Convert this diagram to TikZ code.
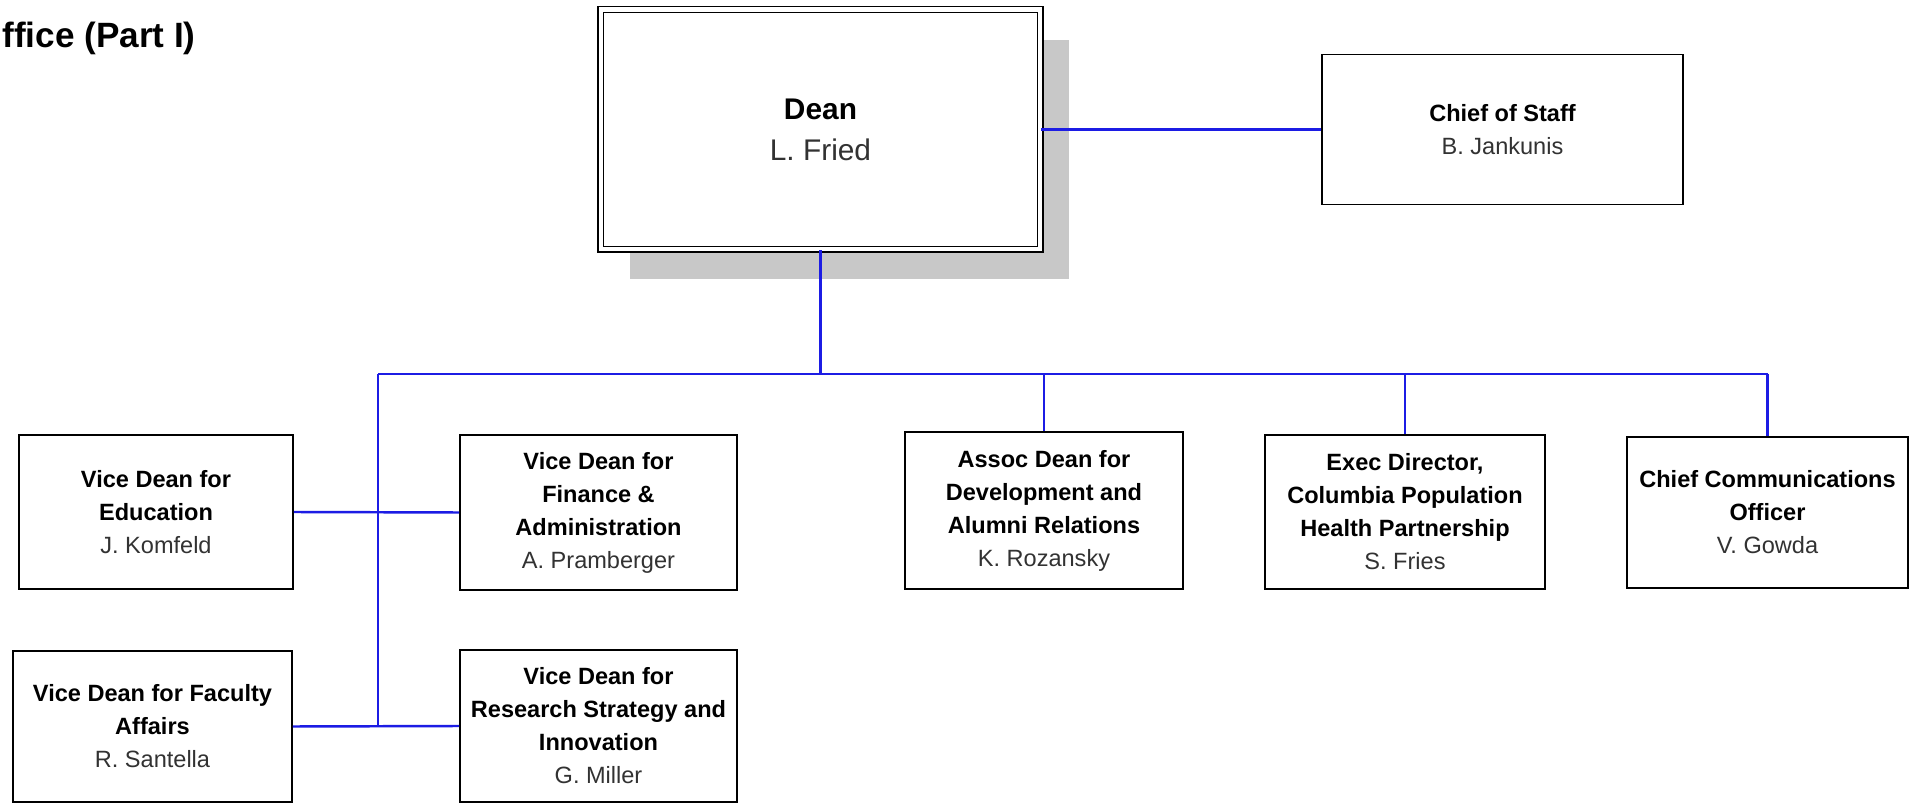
\documentclass[tikz,border=0pt]{standalone}
\usepackage{fontspec}
\setmainfont{Liberation Sans}
\usepackage{tikz}
\usetikzlibrary{shadows}

\definecolor{linkblue}{RGB}{28,28,228}
\definecolor{namegray}{RGB}{50,50,50}
\definecolor{shadowgray}{RGB}{200,200,200}

\newcommand{\who}[1]{{\mdseries\color{namegray}#1}}

\tikzset{
    post/.style={draw=black, line width=1.1pt, fill=white, align=center, inner sep=2pt,
        font=\bfseries\fontsize{13.4}{18.8}\selectfont},
    deanpost/.style={post, double, double distance=2.3pt, line width=0.9pt,
        font=\bfseries\fontsize{17}{23.3}\selectfont,
        drop shadow={shadow xshift=0.58cm, shadow yshift=-0.6cm, fill=shadowgray, opacity=1}},
    link/.style={draw=linkblue, line width=1.4pt},
}

\begin{document}
\begin{tikzpicture}[x=0.02cm, y=-0.02cm]

    \path[use as bounding box, fill=white] (0,0) rectangle (1914,803);

    \node[anchor=base west, inner xsep=0pt, font=\bfseries\fontsize{20}{24}\selectfont] (title) at (2,48) {ffice (Part I)};

    \node[deanpost, minimum width=8.8cm, minimum height=4.8cm] (dean) at (820.5,129.5) {Dean\\\who{L. Fried}};
    \node[post, minimum width=7.22cm, minimum height=3.0cm] (cos) at (1502.5,129.5) {Chief of Staff\\\who{B. Jankunis}};

    \node[post, minimum width=5.48cm, minimum height=3.08cm] (edu) at (156,512) {Vice Dean for\\Education\\\who{J. Komfeld}};
    \node[post, minimum width=5.54cm, minimum height=3.1cm] (fin) at (598.5,512.5) {Vice Dean for\\Finance \&\\Administration\\\who{A. Pramberger}};
    \node[post, minimum width=5.56cm, minimum height=3.14cm] (dev) at (1044,510.5) {Assoc Dean for\\Development and\\Alumni Relations\\\who{K. Rozansky}};
    \node[post, minimum width=5.6cm, minimum height=3.08cm] (cpph) at (1405,512) {Exec Director,\\Columbia Population\\Health Partnership\\\who{S. Fries}};
    \node[post, minimum width=5.62cm, minimum height=3.02cm] (comm) at (1767.5,512.5) {Chief Communications\\Officer\\\who{V. Gowda}};

    \node[post, minimum width=5.58cm, minimum height=3.02cm] (fac) at (152.5,726.5) {Vice Dean for Faculty\\Affairs\\\who{R. Santella}};
    \node[post, minimum width=5.54cm, minimum height=3.04cm] (res) at (598.5,726) {Vice Dean for\\Research Strategy and\\Innovation\\\who{G. Miller}};

    \coordinate (busL) at (378,374);
    \coordinate (busR) at (comm.north |- busL);
    \coordinate (trunk) at (378,726);

    \draw[link] (dean.east) -- (cos.west);
    \draw[link] (dean.south) -- (dean.south |- busL);
    \draw[link] (busL) -- (busR);
    \draw[link] (busL) -- (trunk);

    \foreach \n in {dev, cpph, comm}
        \draw[link] (\n.north |- busL) -- (\n.north);

    \draw[link] (edu.east) -- (fin.west);
    \draw[link] (fac.east) -- (res.west);

\end{tikzpicture}
\end{document}
